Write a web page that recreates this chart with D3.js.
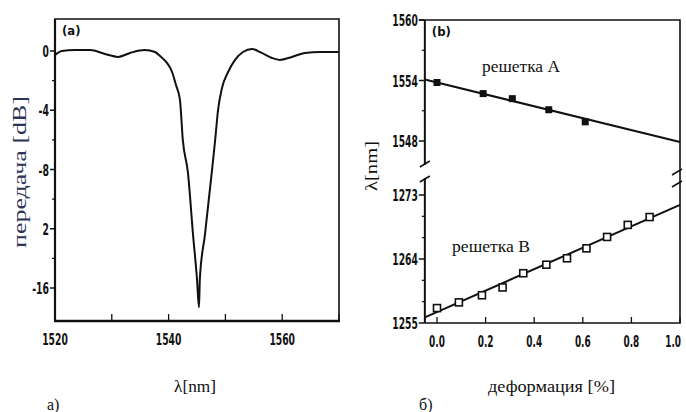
<!DOCTYPE html>
<html>
<head>
<meta charset="utf-8">
<script src="https://cdn.jsdelivr.net/npm/d3@7"></script>
<style>
body{margin:0;background:#fff;}
svg{display:block;}
.tick-label{font-family:'DejaVu Sans Condensed','Liberation Sans Narrow',sans-serif;font-weight:bold;font-size:16px;fill:#111;}
.serif{font-family:'Liberation Serif','DejaVu Serif',serif;fill:#111;}
</style>
</head>
<body>
<svg id="chart" width="686" height="412"></svg>
<script>
// panel a: transmission spectrum
const wavelength=[1520,1521.2,1523.5,1526.2,1528.8,1531.1,1533.2,1535.8,1537.6,1538.5,1539.7,1540.6,1541.3,1542,1542.5,1543.4,1544.3,1545,1545.35,1545.5,1546.4,1547.6,1548.2,1548.7,1549.4,1550.5,1551.7,1553.1,1554.7,1556.4,1558.2,1559.6,1561.7,1564,1566.7,1570]
const transmission=[-0.27,0,0.07,0.07,-0.2,-0.4,-0.13,0.07,-0.07,-0.34,-0.8,-1.4,-2.3,-3.3,-6,-8.2,-12.4,-15.4,-17.3,-15.4,-12.4,-8.2,-6,-4,-2.5,-1.4,-0.6,-0.07,0.13,-0.13,-0.47,-0.6,-0.4,-0.13,-0.07,-0.07]
const a_x_ticks=[1520,1540,1560]
const a_x_minor=[1530,1550,1570]
const a_y_ticks=[0,-4,-8,-12,-16]
const a_y_labels=['0','-4','-8','2','-16']
const a_y_minor=[-2,-6,-10,-14]

// panel b: wavelength vs strain
const strain_a=[0.0,0.19,0.31,0.46,0.61]
const lambda_a=[1553.8,1552.7,1552.2,1551.1,1549.9]
const strain_b=[0.0,0.09,0.185,0.27,0.355,0.45,0.535,0.615,0.70,0.785,0.875]
const lambda_b=[1257.1,1257.9,1258.9,1260.0,1262.0,1263.2,1264.1,1265.5,1267.1,1268.8,1269.9]
const fit_a=[[-0.05,1554.1],[1.0,1547.9]]
const fit_b=[[-0.05,1255.8],[1.0,1271.6]]
const b_x_ticks=[0,0.2,0.4,0.6,0.8,1.0]
const b_y_top_ticks=[1560,1554,1548]
const b_y_top_minor=[1557,1551]
const b_y_bot_ticks=[1273,1264,1255]
const b_y_bot_minor=[1270,1267,1261,1258]

const svg=d3.select('#chart')

// narrow the tick digits like the scanned original
function label_len(t){
    return d3.sum(String(t).split(''),c=>c=='.'?3:(c=='-'?4:6.4))
}

draw_panel_a()
draw_panel_b()

function draw_panel_a(){
    let box={left:55,right:339,top:19,bot:321}
    let x=d3.scaleLinear().domain([1520,1570]).range([box.left,box.right])
    let y=d3.scaleLinear().domain([-16,0]).range([288,51])
    let g=svg.append('g')

    // frame
    g.append('path').attr('d',`M ${box.left} ${box.bot} V ${box.top} H ${box.right} V ${box.bot}`)
        .attr('fill','none').attr('stroke','#111').attr('stroke-width',1.6)
    g.append('line').attr('x1',box.left).attr('x2',box.left).attr('y1',box.top).attr('y2',box.bot)
        .attr('stroke','#111').attr('stroke-width',2.2)
    g.append('line').attr('x1',box.left-1).attr('x2',box.right+1).attr('y1',box.bot).attr('y2',box.bot)
        .attr('stroke','#111').attr('stroke-width',2.6)

    // x ticks
    g.selectAll('.xt').data(a_x_ticks.concat(a_x_minor)).join('line')
        .attr('x1',d=>x(d)).attr('x2',d=>x(d)).attr('y1',box.bot).attr('y2',box.bot-7)
        .attr('stroke','#111').attr('stroke-width',1.3)
    g.selectAll('.xl').data(a_x_ticks).join('text').attr('class','tick-label')
        .attr('x',d=>x(d)).attr('y',box.bot+24).attr('text-anchor','middle')
        .attr('textLength',d=>label_len(d)).attr('lengthAdjust','spacingAndGlyphs').text(d=>d)

    // y ticks
    g.selectAll('.yt').data(a_y_ticks).join('line')
        .attr('x1',box.left-5).attr('x2',box.left).attr('y1',d=>y(d)).attr('y2',d=>y(d))
        .attr('stroke','#111').attr('stroke-width',1.5)
    g.selectAll('.ym').data(a_y_minor).join('line')
        .attr('x1',box.left-3).attr('x2',box.left).attr('y1',d=>y(d)).attr('y2',d=>y(d))
        .attr('stroke','#111').attr('stroke-width',1.2)
    g.selectAll('.yl').data(a_y_ticks).join('text').attr('class','tick-label')
        .attr('x',box.left-6).attr('y',d=>y(d)+6).attr('text-anchor','end')
        .attr('textLength',(d,i)=>label_len(a_y_labels[i])).attr('lengthAdjust','spacingAndGlyphs')
        .text((d,i)=>a_y_labels[i])

    // curve
    let line=d3.line().x(d=>x(d[0])).y(d=>y(d[1])).curve(d3.curveMonotoneX)
    g.append('path').datum(wavelength.map((w,i)=>[w,transmission[i]]))
        .attr('d',line).attr('fill','none').attr('stroke','#111').attr('stroke-width',2)

    g.append('text').attr('class','tick-label').attr('x',box.left+7).attr('y',box.top+16)
        .style('font-size','13px').text('(a)')

    // axis titles
    g.append('text').attr('class','serif')
        .attr('transform',`translate(26,172) rotate(-90)`)
        .attr('text-anchor','middle').style('font-size','18px').style('fill','#2c3455')
        .attr('textLength',152).attr('lengthAdjust','spacingAndGlyphs')
        .text('передача  [dB]')
    g.append('text').attr('class','serif').attr('x',195).attr('y',392)
        .attr('text-anchor','middle').style('font-size','17px')
        .attr('textLength',42).attr('lengthAdjust','spacingAndGlyphs')
        .text('λ[nm]')
    g.append('text').attr('class','serif').attr('x',47).attr('y',410).style('font-size','16px').text('a)')
}

function draw_panel_b(){
    let box={top:20,bot:323,break_top:165,break_bot:178}
    let x=d3.scaleLinear().domain([0,1]).range([437,680])
    box.left=x(-0.05)
    box.right=x(1)
    let y_top=d3.scaleLinear().domain([1548,1560]).range([141,20])
    let y_bot=d3.scaleLinear().domain([1255,1273]).range([323,195])
    let g=svg.append('g')

    // frame with break
    g.append('path').attr('d',`M ${box.left-6} ${box.top} H ${box.right} V ${box.bot} H ${box.left}`)
        .attr('fill','none').attr('stroke','#111').attr('stroke-width',1.6)
    g.append('line').attr('x1',box.left).attr('x2',box.left).attr('y1',box.top).attr('y2',box.break_top)
        .attr('stroke','#111').attr('stroke-width',2)
    g.append('line').attr('x1',box.left).attr('x2',box.left).attr('y1',box.break_bot).attr('y2',box.bot)
        .attr('stroke','#111').attr('stroke-width',2)
    let slash=(cx,cy)=>`M ${cx-5} ${cy+3} L ${cx+5} ${cy-3}`
    g.selectAll('.brk').data([[box.left,box.break_top-1],[box.left,box.break_bot+1],[box.right-3,172],[box.right-3,184]]).join('path')
        .attr('d',d=>slash(d[0],d[1])).attr('stroke','#111').attr('stroke-width',1.6).attr('fill','none')

    // x ticks
    g.selectAll('.xt').data(b_x_ticks).join('line')
        .attr('x1',d=>x(d)).attr('x2',d=>x(d)).attr('y1',box.bot).attr('y2',box.bot-6)
        .attr('stroke','#111').attr('stroke-width',1.3)
    g.selectAll('.xl').data(b_x_ticks).join('text').attr('class','tick-label')
        .attr('x',d=>d==1?681:x(d)).attr('y',box.bot+24).attr('text-anchor',d=>d==1?'end':'middle')
        .attr('textLength',d=>label_len(d.toFixed(1))).attr('lengthAdjust','spacingAndGlyphs')
        .text(d=>d.toFixed(1))

    // y ticks, both segments
    let y_ticks=b_y_top_ticks.map(d=>y_top(d)).concat(b_y_bot_ticks.map(d=>y_bot(d)))
    let y_minor=b_y_top_minor.map(d=>y_top(d)).concat(b_y_bot_minor.map(d=>y_bot(d)))
    let y_labels=b_y_top_ticks.concat(b_y_bot_ticks)
    g.selectAll('.yt').data(y_ticks).join('line')
        .attr('x1',box.left-6).attr('x2',box.left).attr('y1',d=>d).attr('y2',d=>d)
        .attr('stroke','#111').attr('stroke-width',1.5)
    g.selectAll('.ym').data(y_minor).join('line')
        .attr('x1',box.left-3).attr('x2',box.left).attr('y1',d=>d).attr('y2',d=>d)
        .attr('stroke','#111').attr('stroke-width',1.2)
    g.selectAll('.yl').data(y_ticks).join('text').attr('class','tick-label')
        .attr('x',box.left-7).attr('y',d=>d+6).attr('text-anchor','end')
        .attr('textLength',(d,i)=>label_len(y_labels[i])).attr('lengthAdjust','spacingAndGlyphs')
        .text((d,i)=>y_labels[i])

    // fits
    let line_a=d3.line().x(d=>x(d[0])).y(d=>y_top(d[1]))
    let line_b=d3.line().x(d=>x(d[0])).y(d=>y_bot(d[1]))
    g.append('path').datum(fit_a).attr('d',line_a).attr('stroke','#111').attr('stroke-width',2).attr('fill','none')
    g.append('path').datum(fit_b).attr('d',line_b).attr('stroke','#111').attr('stroke-width',2).attr('fill','none')

    // markers
    let s=7
    g.selectAll('.ma').data(strain_a.map((d,i)=>[d,lambda_a[i]])).join('rect')
        .attr('x',d=>x(d[0])-s/2).attr('y',d=>y_top(d[1])-s/2).attr('width',s).attr('height',s)
        .attr('fill','#111')
    g.selectAll('.mb').data(strain_b.map((d,i)=>[d,lambda_b[i]])).join('rect')
        .attr('x',d=>x(d[0])-s/2).attr('y',d=>y_bot(d[1])-s/2).attr('width',s).attr('height',s)
        .attr('fill','#fff').attr('stroke','#111').attr('stroke-width',1.6)

    g.append('text').attr('class','tick-label').attr('x',box.left+7).attr('y',box.top+16)
        .style('font-size','13px').text('(b)')
    g.append('text').attr('class','serif').attr('x',482).attr('y',72).style('font-size','17px')
        .attr('textLength',78).attr('lengthAdjust','spacingAndGlyphs').text('решетка  A')
    g.append('text').attr('class','serif').attr('x',452).attr('y',252).style('font-size','17px')
        .attr('textLength',78).attr('lengthAdjust','spacingAndGlyphs').text('решетка  B')

    // axis titles
    g.append('text').attr('class','serif')
        .attr('transform',`translate(377,166) rotate(-90)`)
        .attr('text-anchor','middle').style('font-size','17px')
        .attr('textLength',50).attr('lengthAdjust','spacingAndGlyphs')
        .text('λ[nm]')
    g.append('text').attr('class','serif').attr('x',488).attr('y',392).style('font-size','17px')
        .attr('textLength',127).attr('lengthAdjust','spacingAndGlyphs')
        .text('деформация  [%]')
    g.append('text').attr('class','serif').attr('x',419).attr('y',410).style('font-size','16px').text('б)')
}
</script>
</body>
</html>
